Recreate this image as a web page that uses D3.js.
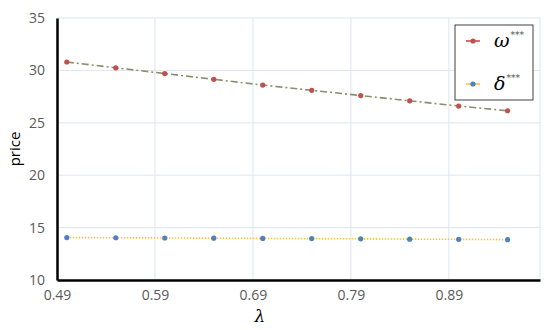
<!DOCTYPE html>
<html>
<head>
<meta charset="utf-8">
<script src="https://cdn.jsdelivr.net/npm/d3@7"></script>
<style>
  body { margin: 0; background: #fff; }
  text { font-family: "Open Sans", "Liberation Sans", sans-serif; }
</style>
</head>
<body>
<svg id="chart" width="550" height="330"></svg>
<script>
// lambda values and the two price series
var lambdas = [0.50, 0.55, 0.60, 0.65, 0.70, 0.75, 0.80, 0.85, 0.90, 0.95];
var omega = [30.8, 30.25, 29.7, 29.15, 28.6, 28.1, 27.6, 27.1, 26.6, 26.15];
var delta = [14.05, 14.03, 14.01, 13.99, 13.97, 13.95, 13.93, 13.9, 13.88, 13.85];
var xTicks = [0.49, 0.59, 0.69, 0.79, 0.89];
var yTicks = [10, 15, 20, 25, 30, 35];

var svg = d3.select("#chart");
var pLeft = 57, pRight = 540, pTop = 18, pBottom = 280;

var x = d3.scaleLinear().domain([0.49, 0.983]).range([pLeft, pRight]);
var y = d3.scaleLinear().domain([10, 35]).range([pBottom, pTop]);

// grid
svg.append("g").selectAll("line").data(yTicks.slice(1)).enter().append("line")
  .attr("x1", pLeft).attr("x2", pRight)
  .attr("y1", function(d){ return y(d); }).attr("y2", function(d){ return y(d); })
  .style("stroke", "#dbe5f1").style("stroke-width", 1);
svg.append("g").selectAll("line").data(xTicks.slice(1).concat([0.983])).enter().append("line")
  .attr("y1", pTop).attr("y2", pBottom)
  .attr("x1", function(d){ return x(d); }).attr("x2", function(d){ return x(d); })
  .style("stroke", "#dbe5f1").style("stroke-width", 1);

// axes
var xAxis = svg.append("g").attr("transform", "translate(0," + pBottom + ")")
  .call(d3.axisBottom(x).tickValues(xTicks).tickSize(0).tickPadding(10).tickFormat(d3.format(".2f")));
var yAxis = svg.append("g").attr("transform", "translate(" + pLeft + ",0)")
  .call(d3.axisLeft(y).tickValues(yTicks).tickSize(0).tickPadding(12));
[xAxis, yAxis].forEach(function(a){
  a.select(".domain").style("stroke", "#000").style("stroke-width", 2.5);
  a.selectAll("text").style("font-size", "14px").style("fill", "#595959");
});

// lines
var line = function(vals){
  return d3.line().x(function(d, i){ return x(lambdas[i]); }).y(function(d){ return y(d); })(vals);
};
svg.append("path").attr("d", line(omega)).style("fill", "none")
  .style("stroke", "#8c8c70").style("stroke-width", 1.6).style("stroke-dasharray", "7,3,2,3");
svg.append("path").attr("d", line(delta)).style("fill", "none")
  .style("stroke", "#f5c542").style("stroke-width", 1.6).style("stroke-dasharray", "1.5,1.5");

svg.append("g").selectAll("circle").data(omega).enter().append("circle")
  .attr("cx", function(d, i){ return x(lambdas[i]); }).attr("cy", function(d){ return y(d); })
  .attr("r", 2.6).style("fill", "#c0504d");
svg.append("g").selectAll("circle").data(delta).enter().append("circle")
  .attr("cx", function(d, i){ return x(lambdas[i]); }).attr("cy", function(d){ return y(d); })
  .attr("r", 2.6).style("fill", "#4f81bd");

// axis titles
svg.append("text").attr("transform", "translate(20,149) rotate(-90)")
  .attr("text-anchor", "middle").style("font-size", "15px").style("fill", "#000").text("price");
svg.append("text").attr("x", 260).attr("y", 322).attr("text-anchor", "middle")
  .style("font-family", "'DejaVu Serif', serif").style("font-style", "italic")
  .style("font-size", "17px").text("λ");

// legend
var lg = svg.append("g");
lg.append("rect").attr("x", 455).attr("y", 25).attr("width", 78).attr("height", 75)
  .style("fill", "#fff").style("stroke", "#404040").style("stroke-width", 1);
var legendItems = [
  {sym: "ω", color: "#c0504d", lineColor: "#c0504d", y: 41},
  {sym: "δ", color: "#4f81bd", lineColor: "#f5c542", y: 84}
];
legendItems.forEach(function(it){
  lg.append("line").attr("x1", 466).attr("x2", 480).attr("y1", it.y).attr("y2", it.y)
    .style("stroke", it.lineColor).style("stroke-width", 1.6);
  lg.append("circle").attr("cx", 473).attr("cy", it.y).attr("r", 2.6).style("fill", it.color);
  var t = lg.append("text").attr("x", 494).attr("y", it.y + 6)
    .style("font-family", "'DejaVu Serif', 'Liberation Serif', serif").style("font-style", "italic")
    .style("font-size", "19px").text(it.sym);
  t.append("tspan").attr("dy", -9).attr("dx", 1).style("font-size", "9px").style("font-style", "normal")
    .style("fill", "#555").text("***");
});
</script>
</body>
</html>
